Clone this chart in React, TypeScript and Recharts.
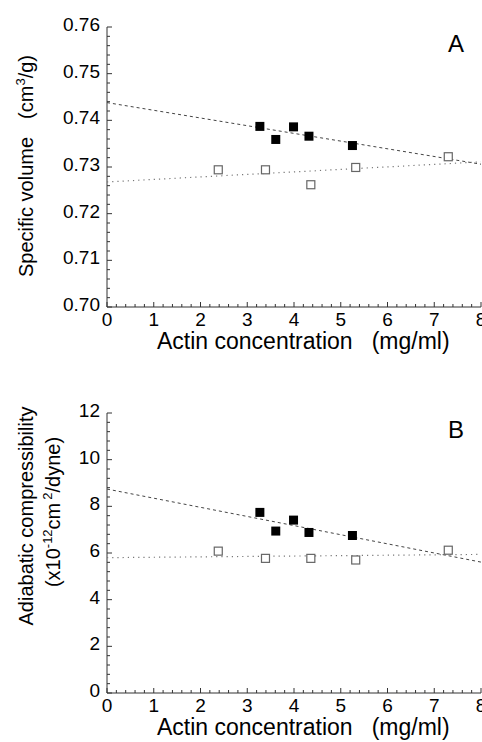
import React from "react";
import { Scatter, ScatterChart, XAxis, YAxis } from "recharts";

// actin concentration (mg/ml)
const filledX = [3.27, 3.61, 3.99, 4.32, 5.25];
const openX = [2.38, 3.39, 4.36, 5.32, 7.3];

// panel A: specific volume (cm3/g)
const volFilled = [0.7387, 0.7359, 0.7386, 0.7366, 0.7346];
const volOpen = [0.7294, 0.7294, 0.7262, 0.7299, 0.7322];
const volFitFilled = [0.7438, 0.7306];
const volFitOpen = [0.7268, 0.7311];

// panel B: adiabatic compressibility (x10^-12 cm2/dyne)
const compFilled = [7.74, 6.94, 7.41, 6.88, 6.75];
const compOpen = [6.08, 5.77, 5.77, 5.7, 6.12];
const compFitFilled = [8.74, 5.61];
const compFitOpen = [5.8, 5.94];

const fitX = [0, 8];

const xMajor = [0, 1, 2, 3, 4, 5, 6, 7, 8];
const volMajor = [0.7, 0.71, 0.72, 0.73, 0.74, 0.75, 0.76];
const compMajor = [0, 2, 4, 6, 8, 10, 12];

const FONT = "'Liberation Sans', Arial, Helvetica, sans-serif";
const AXIS = "#333";

function withMinor(majors: number[], parts: number) {
  const out: number[] = [];
  for (let i = 0; i < majors.length - 1; i++) {
    for (let k = 0; k < parts; k++) {
      const v = majors[i] + ((majors[i + 1] - majors[i]) * k) / parts;
      out.push(Number(v.toFixed(6)));
    }
  }
  out.push(majors[majors.length - 1]);
  return out;
}

const isMajor = (majors: number[], v: number) => majors.some((m) => Math.abs(m - v) < 1e-7);

const zip = (xs: number[], ys: number[]) => xs.map((x, i) => ({ x, y: ys[i] }));

const FilledSquare = (p: any) => (
  <rect x={p.cx - 4.5} y={p.cy - 4.5} width={9} height={9} fill="#000" />
);
const OpenSquare = (p: any) => (
  <rect x={p.cx - 4} y={p.cy - 4} width={8} height={8} fill="#fff" stroke="#666" strokeWidth={1.2} />
);
const NoDot = () => <g />;

function makeTick(side: "bottom" | "top" | "left" | "right", majors: number[], fmt?: (v: number) => string) {
  return (p: any) => {
    const { x, y, payload } = p;
    const v = payload.value;
    const major = isMajor(majors, v);
    const len = major ? 5 : 3;
    let line;
    if (side === "bottom") line = <line x1={x} x2={x} y1={y} y2={y - len} stroke={AXIS} />;
    else if (side === "top") line = <line x1={x} x2={x} y1={y} y2={y + len} stroke={AXIS} />;
    else if (side === "left") line = <line x1={x} x2={x + len} y1={y} y2={y} stroke={AXIS} />;
    else line = <line x1={x} x2={x - len} y1={y} y2={y} stroke={AXIS} />;
    let label = null;
    if (major && fmt && side === "bottom")
      label = (
        <text x={x} y={y + 19} textAnchor="middle" fontSize={19} fontFamily={FONT} fill="#000">
          {fmt(v)}
        </text>
      );
    if (major && fmt && side === "left")
      label = (
        <text x={x - 7} y={y + 4} textAnchor="end" fontSize={19} fontFamily={FONT} fill="#000">
          {fmt(v)}
        </text>
      );
    return (
      <g>
        {line}
        {label}
      </g>
    );
  };
}

const XTitle = (props: any) => {
  const vb = props.viewBox;
  return (
    <text x={157} y={vb.y + 42} fontSize={23} fontFamily={FONT} fill="#000">
      Actin concentration
      <tspan dx={19}>(mg/ml)</tspan>
    </text>
  );
};

const VolTitle = () => (
  <text transform="rotate(-90, 33, 166)" x={33} y={166} textAnchor="middle" fontSize={20} fontFamily={FONT} fill="#000">
    Specific volume
    <tspan dx={18}>(cm</tspan>
    <tspan dy={-8} fontSize={13}>3</tspan>
    <tspan dy={8}>/g)</tspan>
  </text>
);

const CompTitle = () => (
  <g>
    <text transform="rotate(-90, 33, 136)" x={33} y={136} textAnchor="middle" fontSize={20} fontFamily={FONT} fill="#000">
      Adiabatic compressibility
    </text>
    <text transform="rotate(-90, 60, 132)" x={60} y={132} textAnchor="middle" fontSize={20} fontFamily={FONT} fill="#000">
      (x10
      <tspan dy={-8} fontSize={13}>-12</tspan>
      <tspan dy={8}>cm</tspan>
      <tspan dy={-8} dx={3} fontSize={13}>2</tspan>
      <tspan dy={8}>/dyne)</tspan>
    </text>
  </g>
);

type PanelProps = {
  height: number;
  top: number;
  xAxisHeight: number;
  domain: [number, number];
  majors: number[];
  fmt: (v: number) => string;
  filled: number[];
  open: number[];
  fitFilled: number[];
  fitOpen: number[];
  title: React.ReactNode;
};

function Panel(props: PanelProps) {
  const xTicks = withMinor(xMajor, 5);
  const yTicks = withMinor(props.majors, 5);
  return (
    <ScatterChart width={482} height={props.height} margin={{ top: props.top, right: 1, bottom: 0, left: 0 }}>
      <XAxis
        xAxisId="b"
        type="number"
        dataKey="x"
        domain={[0, 8]}
        ticks={xTicks}
        interval={0}
        tickSize={0}
        tickMargin={0}
        tickLine={false}
        height={props.xAxisHeight}
        axisLine={{ stroke: AXIS }}
        tick={makeTick("bottom", xMajor, (v) => String(v))}
        label={<XTitle />}
      />
      <XAxis
        xAxisId="t"
        orientation="top"
        type="number"
        domain={[0, 8]}
        ticks={xTicks}
        interval={0}
        tickSize={0}
        tickMargin={0}
        tickLine={false}
        height={0}
        axisLine={{ stroke: AXIS }}
        tick={makeTick("top", xMajor)}
      />
      <YAxis
        yAxisId="l"
        type="number"
        dataKey="y"
        domain={props.domain}
        ticks={yTicks}
        interval={0}
        tickSize={0}
        tickMargin={0}
        tickLine={false}
        width={107}
        axisLine={{ stroke: AXIS }}
        tick={makeTick("left", props.majors, props.fmt)}
        label={props.title}
      />
      <YAxis
        yAxisId="r"
        orientation="right"
        type="number"
        domain={props.domain}
        ticks={yTicks}
        interval={0}
        tickSize={0}
        tickMargin={0}
        tickLine={false}
        width={0}
        axisLine={{ stroke: AXIS }}
        tick={makeTick("right", props.majors)}
      />
      <Scatter
        xAxisId="b"
        yAxisId="l"
        data={zip(fitX, props.fitFilled)}
        line={{ stroke: "#444", strokeDasharray: "3 3", strokeWidth: 1 }}
        shape={NoDot}
        isAnimationActive={false}
      />
      <Scatter
        xAxisId="b"
        yAxisId="l"
        data={zip(fitX, props.fitOpen)}
        line={{ stroke: "#777", strokeDasharray: "1.2 4", strokeWidth: 1.2 }}
        shape={NoDot}
        isAnimationActive={false}
      />
      <Scatter xAxisId="b" yAxisId="l" data={zip(openX, props.open)} shape={OpenSquare} isAnimationActive={false} />
      <Scatter xAxisId="b" yAxisId="l" data={zip(filledX, props.filled)} shape={FilledSquare} isAnimationActive={false} />
    </ScatterChart>
  );
}

const panelLetter = (top: number): React.CSSProperties => ({
  position: "absolute",
  left: 448,
  top,
  fontSize: 24,
  fontFamily: FONT,
  lineHeight: "24px",
  color: "#000",
});

export default function App() {
  return (
    <div style={{ position: "absolute", left: 0, top: 0, width: 482, height: 742, background: "#fff", overflow: "hidden" }}>
      <div style={{ position: "absolute", left: 0, top: 0 }}>
        <Panel
          height={380}
          top={27}
          xAxisHeight={73}
          domain={[0.7, 0.76]}
          majors={volMajor}
          fmt={(v) => v.toFixed(2)}
          filled={volFilled}
          open={volOpen}
          fitFilled={volFitFilled}
          fitOpen={volFitOpen}
          title={<VolTitle />}
        />
      </div>
      <div style={{ position: "absolute", left: 0, top: 380 }}>
        <Panel
          height={362}
          top={33}
          xAxisHeight={49}
          domain={[0, 12]}
          majors={compMajor}
          fmt={(v) => String(v)}
          filled={compFilled}
          open={compOpen}
          fitFilled={compFitFilled}
          fitOpen={compFitOpen}
          title={<CompTitle />}
        />
      </div>
      <div style={panelLetter(32)}>A</div>
      <div style={panelLetter(418)}>B</div>
    </div>
  );
}
